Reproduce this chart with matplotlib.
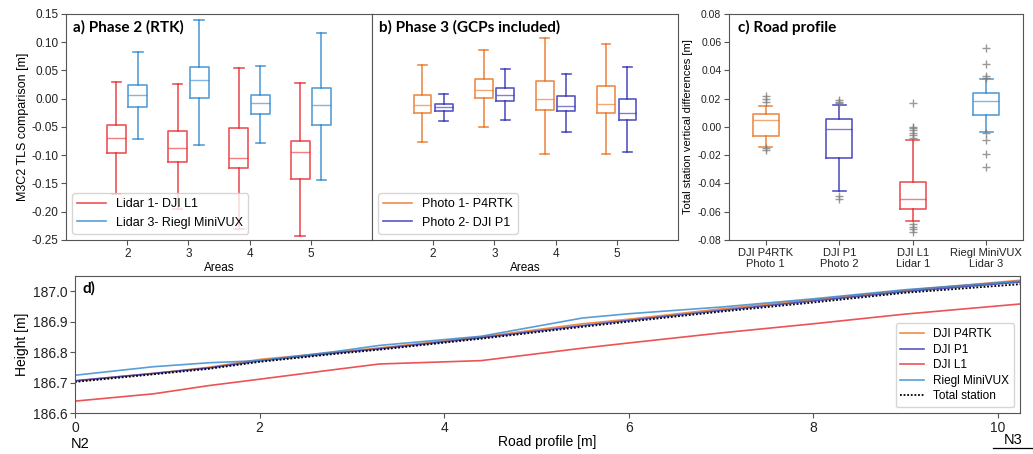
import matplotlib.pyplot as plt
from matplotlib.lines import Line2D

plt.rcParams['font.family'] = ['Liberation Sans', 'DejaVu Sans']
plt.rcParams['axes.edgecolor'] = '#555555'
plt.rcParams['xtick.color'] = '#555555'
plt.rcParams['ytick.color'] = '#555555'
plt.rcParams['xtick.labelcolor'] = '#222222'
plt.rcParams['ytick.labelcolor'] = '#222222'
plt.rcParams['xtick.major.pad'] = 2.0
plt.rcParams['ytick.major.pad'] = 2.0

C_ORANGE = '#e8711e'
C_NAVY = '#2c2cb4'
C_RED = '#e8282b'
C_BLUE = '#2f86cc'

# a) Phase 2 (RTK): M3C2 distance to TLS per area
areas = [2, 3, 4, 5]
l1_lo = [-0.169, -0.195, -0.230, -0.243]
l1_q1 = [-0.0956, -0.1115, -0.122, -0.1416]
l1_med = [-0.0696, -0.0873, -0.105, -0.095]
l1_q3 = [-0.046, -0.0566, -0.0513, -0.0743]
l1_hi = [0.029, 0.0265, 0.055, 0.0277]

vux_lo = [-0.0714, -0.0826, -0.0785, -0.144]
vux_q1 = [-0.0142, 0.0018, -0.0277, -0.046]
vux_med = [0.0059, 0.0324, -0.0071, -0.0106]
vux_q3 = [0.0236, 0.056, 0.0065, 0.0183]
vux_hi = [0.082, 0.140, 0.0584, 0.116]

# b) Phase 3 (GCPs included)
p4_lo = [-0.0773, -0.0501, -0.0973, -0.0985]
p4_q1 = [-0.026, 0.0018, -0.020, -0.026]
p4_med = [-0.0112, 0.0159, -0.0012, -0.0088]
p4_q3 = [0.0071, 0.0348, 0.0307, 0.0224]
p4_hi = [0.0596, 0.0867, 0.108, 0.0973]

p1_lo = [-0.0401, -0.0378, -0.059, -0.0944]
p1_q1 = [-0.0212, -0.0041, -0.0218, -0.0383]
p1_med = [-0.0153, 0.0071, -0.0136, -0.026]
p1_q3 = [-0.0094, 0.0183, 0.0041, -0.0012]
p1_hi = [0.0088, 0.053, 0.043, 0.0555]

# c) Road profile: differences to total station
sensors = ['DJI P4RTK\nPhoto 1', 'DJI P1\nPhoto 2', 'DJI L1\nLidar 1', 'Riegl MiniVUX\nLidar 3']
road_lo = [-0.0139, -0.0455, -0.0665, -0.0035]
road_q1 = [-0.0066, -0.0217, -0.058, 0.0083]
road_med = [0.0052, -0.0012, -0.0512, 0.0186]
road_q3 = [0.0094, 0.0054, -0.039, 0.024]
road_hi = [0.0151, 0.0156, -0.0094, 0.0337]
road_fliers = [
    [0.0217, 0.0198, 0.018, -0.0146, -0.016],
    [0.019, 0.018, 0.017, -0.049, -0.051],
    [0.0172, 0.0, -0.001, -0.002, -0.004, -0.0057, -0.0075,
     -0.0687, -0.0705, -0.0724, -0.074],
    [0.056, 0.0444, 0.036, 0.0347, -0.004, -0.0092, -0.0194, -0.028],
]

# d) Height along the road profile N2 -> N3
dist = [0.0, 0.85, 1.45, 2.0, 2.85, 3.3, 4.4, 5.5, 6.0, 7.0, 8.0, 9.0, 10.24]
h_p4rtk = [186.705, 186.730, 186.750, 186.776, 186.800, 186.814, 186.850,
           186.893, 186.908, 186.942, 186.972, 187.003, 187.036]
h_p1 = [186.706, 186.730, 186.748, 186.771, 186.798, 186.811, 186.847,
        186.887, 186.904, 186.937, 186.968, 186.999, 187.030]
h_l1 = [186.639, 186.663, 186.690, 186.711, 186.744, 186.761, 186.772,
        186.813, 186.830, 186.863, 186.893, 186.925, 186.958]
h_vux = [186.724, 186.752, 186.765, 186.772, 186.803, 186.822, 186.852,
         186.912, 186.926, 186.948, 186.975, 187.005, 187.033]
h_ts = [186.702, 186.727, 186.745, 186.768, 186.795, 186.808, 186.844,
        186.883, 186.900, 186.933, 186.963, 186.995, 187.023]


def stats(lo, q1, med, q3, hi, fliers=None):
    out = []
    for i in range(len(med)):
        out.append(dict(whislo=lo[i], q1=q1[i], med=med[i], q3=q3[i], whishi=hi[i],
                        fliers=fliers[i] if fliers else []))
    return out


def draw_boxes(ax, st, pos, color, width):
    line = dict(color=color, lw=1.2, alpha=0.8)
    ax.bxp(st, positions=pos, widths=width, boxprops=line, whiskerprops=line,
           capprops=line, medianprops=dict(color=color, lw=1.0, alpha=0.6),
           flierprops=dict(marker='+', markeredgecolor='grey', markersize=6, alpha=0.8),
           manage_ticks=False)


def panel_label(ax, text, x, y, size=11):
    ax.text(x, y, text, transform=ax.transAxes, va='top', ha='left',
            fontsize=size, fontweight='bold', family=['Lato', 'DejaVu Sans'])


fig = plt.figure(figsize=(10.33, 4.54), dpi=100)
ax_a = fig.add_axes([0.0639, 0.4714, 0.2962, 0.4978])
ax_b = fig.add_axes([0.3601, 0.4714, 0.2962, 0.4978], sharey=ax_a)
ax_c = fig.add_axes([0.7057, 0.4714, 0.2846, 0.4978])
ax_d = fig.add_axes([0.0726, 0.0903, 0.9148, 0.3018])

off = 0.175
# panel a
draw_boxes(ax_a, stats(l1_lo, l1_q1, l1_med, l1_q3, l1_hi), [a - off for a in areas], C_RED, 0.31)
draw_boxes(ax_a, stats(vux_lo, vux_q1, vux_med, vux_q3, vux_hi), [a + off for a in areas], C_BLUE, 0.31)
ax_a.set_xlim(1, 6)
ax_a.set_ylim(-0.25, 0.15)
ax_a.set_xticks(areas)
ax_a.set_yticks([-0.25, -0.2, -0.15, -0.1, -0.05, 0.0, 0.05, 0.1, 0.15])
ax_a.set_yticklabels(['%.2f' % v for v in ax_a.get_yticks()])
ax_a.tick_params(labelsize=8.5)
ax_a.set_xlabel('Areas', fontsize=8.5, labelpad=2)
ax_a.set_ylabel('M3C2 TLS comparison [m]', fontsize=9, labelpad=2)
panel_label(ax_a, 'a) Phase 2 (RTK)', 0.022, 0.975)
ax_a.legend(handles=[Line2D([], [], color=C_RED, lw=1.2, alpha=0.8),
                     Line2D([], [], color=C_BLUE, lw=1.2, alpha=0.8)],
            labels=['Lidar 1- DJI L1', 'Lidar 3- Riegl MiniVUX'],
            loc='lower left', fontsize=9, handlelength=2.3, borderaxespad=0.5)

# panel b
draw_boxes(ax_b, stats(p4_lo, p4_q1, p4_med, p4_q3, p4_hi), [a - off for a in areas], C_ORANGE, 0.29)
draw_boxes(ax_b, stats(p1_lo, p1_q1, p1_med, p1_q3, p1_hi), [a + off for a in areas], C_NAVY, 0.29)
ax_b.set_xlim(1, 6)
ax_b.set_xticks(areas)
ax_b.tick_params(axis='y', left=False, labelleft=False)
ax_b.tick_params(labelsize=8.5)
ax_b.set_xlabel('Areas', fontsize=8.5, labelpad=2)
panel_label(ax_b, 'b) Phase 3 (GCPs included)', 0.022, 0.975)
ax_b.legend(handles=[Line2D([], [], color=C_ORANGE, lw=1.2, alpha=0.8),
                     Line2D([], [], color=C_NAVY, lw=1.2, alpha=0.8)],
            labels=['Photo 1- P4RTK', 'Photo 2- DJI P1'],
            loc='lower left', fontsize=9, handlelength=2.3, borderaxespad=0.5)

# panel c
road_stats = stats(road_lo, road_q1, road_med, road_q3, road_hi, road_fliers)
for i, col in enumerate([C_ORANGE, C_NAVY, C_RED, C_BLUE]):
    draw_boxes(ax_c, [road_stats[i]], [i + 1], col, 0.35)
ax_c.set_xlim(0.5, 4.5)
ax_c.set_ylim(-0.08, 0.08)
ax_c.set_xticks([1, 2, 3, 4])
ax_c.set_xticklabels(sensors, fontsize=8)
ax_c.set_yticks([-0.08, -0.06, -0.04, -0.02, 0.0, 0.02, 0.04, 0.06, 0.08])
ax_c.set_yticklabels(['%.2f' % v for v in ax_c.get_yticks()])
ax_c.tick_params(axis='y', labelsize=7.5)
ax_c.set_ylabel('Total station vertical differences [m]', fontsize=8, labelpad=3)
panel_label(ax_c, 'c) Road profile', 0.03, 0.975)

# panel d
ax_d.plot(dist, h_p4rtk, color=C_ORANGE, lw=1.2, alpha=0.8, label='DJI P4RTK')
ax_d.plot(dist, h_p1, color=C_NAVY, lw=1.2, alpha=0.8, label='DJI P1')
ax_d.plot(dist, h_l1, color=C_RED, lw=1.2, alpha=0.8, label='DJI L1')
ax_d.plot(dist, h_vux, color=C_BLUE, lw=1.2, alpha=0.8, label='Riegl MiniVUX')
ax_d.plot(dist, h_ts, color='black', lw=1.3, ls=(0, (1, 1)), label='Total station')
ax_d.set_xlim(0, 10.24)
ax_d.set_ylim(186.6, 187.05)
ax_d.set_xticks([0, 2, 4, 6, 8, 10])
ax_d.set_yticks([186.6, 186.7, 186.8, 186.9, 187.0])
ax_d.set_yticklabels(['%.1f' % v for v in ax_d.get_yticks()])
ax_d.tick_params(labelsize=10)
ax_d.set_xlabel('Road profile [m]', fontsize=10, labelpad=0)
ax_d.set_ylabel('Height [m]', fontsize=10, labelpad=3)
panel_label(ax_d, 'd)', 0.008, 0.96)
ax_d.legend(loc='lower right', fontsize=8.5, handlelength=2.0, labelspacing=0.3,
            borderaxespad=0.5)

fig.text(80 / 1033, 1 - 444 / 454, 'N2', fontsize=10.5, ha='center', va='center')
fig.text(1013 / 1033, 1 - 440 / 454, 'N3', fontsize=10.5, ha='center', va='center')
fig.add_artist(Line2D([993 / 1033, 1.0], [1 - 448 / 454] * 2, color='black', lw=0.9))

fig.savefig('out.png', dpi=100)
